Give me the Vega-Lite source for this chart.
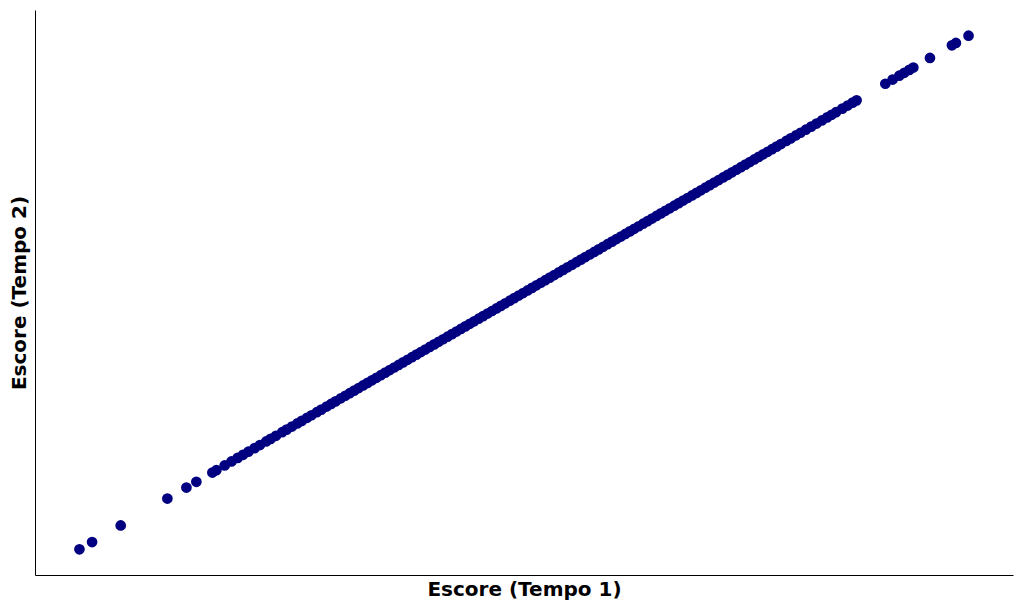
{
  "$schema": "https://vega.github.io/schema/vega-lite/v6.json",
  "width": 978,
  "height": 565,
  "autosize": {"type": "none"},
  "padding": {"left": 35, "top": 10, "right": 11, "bottom": 35},
  "config": {
    "view": {"stroke": null},
    "font": "DejaVu Sans"
  },
  "data": {
    "values": [
      {"t1": 0, "t2": 0}, {"t1": 1.42, "t2": 1.42}, {"t1": 4.64, "t2": 4.64}, {"t1": 9.89, "t2": 9.89},
      {"t1": 12.03, "t2": 12.03}, {"t1": 13.15, "t2": 13.15}, {"t1": 14.95, "t2": 14.95}, {"t1": 15.4, "t2": 15.4},
      {"t1": 16.33, "t2": 16.33},
      {"t1": 17.1, "t2": 17.1}, {"t1": 17.8, "t2": 17.8}, {"t1": 18.4, "t2": 18.4}, {"t1": 19.0, "t2": 19.0},
      {"t1": 19.7, "t2": 19.7}, {"t1": 20.3, "t2": 20.3}, {"t1": 21.0, "t2": 21.0}, {"t1": 21.5, "t2": 21.5},
      {"t1": 22.1, "t2": 22.1}, {"t1": 22.8, "t2": 22.8}, {"t1": 23.3, "t2": 23.3}, {"t1": 23.9, "t2": 23.9},
      {"t1": 24.5, "t2": 24.5}, {"t1": 25.0, "t2": 25.0}, {"t1": 25.6, "t2": 25.6}, {"t1": 26.1, "t2": 26.1},
      {"t1": 26.7, "t2": 26.7}, {"t1": 27.2, "t2": 27.2}, {"t1": 27.8, "t2": 27.8}, {"t1": 28.3, "t2": 28.3},
      {"t1": 28.8, "t2": 28.8}, {"t1": 29.4, "t2": 29.4}, {"t1": 29.9, "t2": 29.9}, {"t1": 30.4, "t2": 30.4},
      {"t1": 30.9, "t2": 30.9}, {"t1": 31.4, "t2": 31.4}, {"t1": 31.9, "t2": 31.9}, {"t1": 32.4, "t2": 32.4},
      {"t1": 32.9, "t2": 32.9}, {"t1": 33.4, "t2": 33.4}, {"t1": 33.9, "t2": 33.9}, {"t1": 34.4, "t2": 34.4},
      {"t1": 34.9, "t2": 34.9}, {"t1": 35.4, "t2": 35.4}, {"t1": 35.9, "t2": 35.9}, {"t1": 36.4, "t2": 36.4},
      {"t1": 36.9, "t2": 36.9}, {"t1": 37.4, "t2": 37.4}, {"t1": 37.9, "t2": 37.9}, {"t1": 38.4, "t2": 38.4},
      {"t1": 38.9, "t2": 38.9}, {"t1": 39.4, "t2": 39.4}, {"t1": 39.9, "t2": 39.9}, {"t1": 40.4, "t2": 40.4},
      {"t1": 40.9, "t2": 40.9}, {"t1": 41.4, "t2": 41.4}, {"t1": 41.9, "t2": 41.9}, {"t1": 42.4, "t2": 42.4},
      {"t1": 42.9, "t2": 42.9}, {"t1": 43.4, "t2": 43.4}, {"t1": 43.9, "t2": 43.9}, {"t1": 44.4, "t2": 44.4},
      {"t1": 44.9, "t2": 44.9}, {"t1": 45.4, "t2": 45.4}, {"t1": 45.9, "t2": 45.9}, {"t1": 46.4, "t2": 46.4},
      {"t1": 46.9, "t2": 46.9}, {"t1": 47.4, "t2": 47.4}, {"t1": 47.9, "t2": 47.9}, {"t1": 48.4, "t2": 48.4},
      {"t1": 48.9, "t2": 48.9}, {"t1": 49.4, "t2": 49.4}, {"t1": 49.9, "t2": 49.9}, {"t1": 50.4, "t2": 50.4},
      {"t1": 50.9, "t2": 50.9}, {"t1": 51.4, "t2": 51.4}, {"t1": 51.9, "t2": 51.9}, {"t1": 52.4, "t2": 52.4},
      {"t1": 52.9, "t2": 52.9}, {"t1": 53.4, "t2": 53.4}, {"t1": 53.9, "t2": 53.9}, {"t1": 54.4, "t2": 54.4},
      {"t1": 54.9, "t2": 54.9}, {"t1": 55.4, "t2": 55.4}, {"t1": 55.9, "t2": 55.9}, {"t1": 56.4, "t2": 56.4},
      {"t1": 56.9, "t2": 56.9}, {"t1": 57.4, "t2": 57.4}, {"t1": 57.9, "t2": 57.9}, {"t1": 58.4, "t2": 58.4},
      {"t1": 58.9, "t2": 58.9}, {"t1": 59.4, "t2": 59.4}, {"t1": 59.9, "t2": 59.9}, {"t1": 60.4, "t2": 60.4},
      {"t1": 60.9, "t2": 60.9}, {"t1": 61.4, "t2": 61.4}, {"t1": 61.9, "t2": 61.9}, {"t1": 62.4, "t2": 62.4},
      {"t1": 62.9, "t2": 62.9}, {"t1": 63.4, "t2": 63.4}, {"t1": 63.9, "t2": 63.9}, {"t1": 64.4, "t2": 64.4},
      {"t1": 64.9, "t2": 64.9}, {"t1": 65.4, "t2": 65.4}, {"t1": 65.9, "t2": 65.9}, {"t1": 66.4, "t2": 66.4},
      {"t1": 66.9, "t2": 66.9}, {"t1": 67.4, "t2": 67.4}, {"t1": 67.9, "t2": 67.9}, {"t1": 68.4, "t2": 68.4},
      {"t1": 68.9, "t2": 68.9}, {"t1": 69.4, "t2": 69.4}, {"t1": 69.9, "t2": 69.9}, {"t1": 70.4, "t2": 70.4},
      {"t1": 70.9, "t2": 70.9}, {"t1": 71.4, "t2": 71.4}, {"t1": 71.9, "t2": 71.9}, {"t1": 72.4, "t2": 72.4},
      {"t1": 72.9, "t2": 72.9}, {"t1": 73.4, "t2": 73.4}, {"t1": 73.9, "t2": 73.9}, {"t1": 74.4, "t2": 74.4},
      {"t1": 74.9, "t2": 74.9}, {"t1": 75.4, "t2": 75.4}, {"t1": 75.9, "t2": 75.9}, {"t1": 76.4, "t2": 76.4},
      {"t1": 76.9, "t2": 76.9}, {"t1": 77.4, "t2": 77.4}, {"t1": 77.9, "t2": 77.9}, {"t1": 78.4, "t2": 78.4},
      {"t1": 78.9, "t2": 78.9}, {"t1": 79.5, "t2": 79.5}, {"t1": 80.0, "t2": 80.0}, {"t1": 80.6, "t2": 80.6},
      {"t1": 81.1, "t2": 81.1}, {"t1": 81.7, "t2": 81.7}, {"t1": 82.3, "t2": 82.3}, {"t1": 82.9, "t2": 82.9},
      {"t1": 83.5, "t2": 83.5}, {"t1": 84.1, "t2": 84.1}, {"t1": 84.6, "t2": 84.6}, {"t1": 85.1, "t2": 85.1},
      {"t1": 85.8, "t2": 85.8}, {"t1": 86.4, "t2": 86.4}, {"t1": 86.96, "t2": 86.96}, {"t1": 87.41, "t2": 87.41},
      {"t1": 90.64, "t2": 90.64}, {"t1": 91.46, "t2": 91.46}, {"t1": 92.21, "t2": 92.21}, {"t1": 92.77, "t2": 92.77},
      {"t1": 93.34, "t2": 93.34}, {"t1": 93.79, "t2": 93.79}, {"t1": 95.66, "t2": 95.66}, {"t1": 98.13, "t2": 98.13},
      {"t1": 98.58, "t2": 98.58}, {"t1": 100, "t2": 100}
    ]
  },
  "mark": {"type": "point", "filled": true, "shape": "circle", "size": 115, "color": "#000080", "opacity": 1},
  "encoding": {
    "x": {
      "field": "t1", "type": "quantitative",
      "scale": {"domain": [-5, 105], "nice": false, "zero": false},
      "axis": {
        "title": "Escore (Tempo 1)", "labels": false, "ticks": false, "grid": false,
        "domainColor": "#000000", "domainWidth": 1,
        "titleFontSize": 20, "titleFontWeight": "bold", "titleColor": "#000000", "titlePadding": 4
      }
    },
    "y": {
      "field": "t2", "type": "quantitative",
      "scale": {"domain": [-5, 105], "nice": false, "zero": false},
      "axis": {
        "title": "Escore (Tempo 2)", "labels": false, "ticks": false, "grid": false,
        "domainColor": "#000000", "domainWidth": 1,
        "titleFontSize": 20, "titleFontWeight": "bold", "titleColor": "#000000", "titlePadding": 6
      }
    }
  }
}
